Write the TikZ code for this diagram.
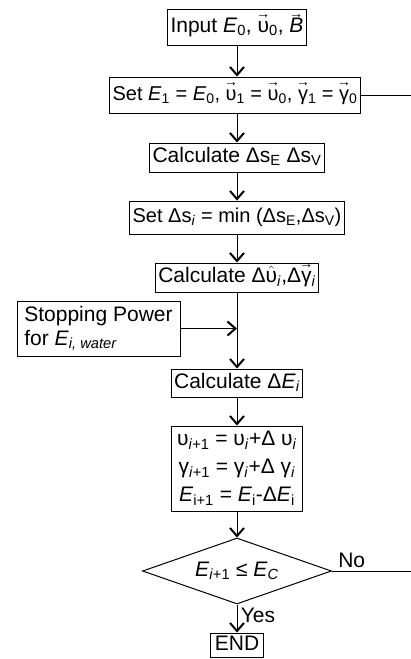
\documentclass[tikz,border=0pt]{standalone}
\usepackage{fontspec}
\setmainfont{Liberation Sans}
\usepackage{amsmath}
\usetikzlibrary{positioning,shapes.geometric,arrows.meta}

% freccia sopra una lettera
\newcommand{\vett}[1]{\leavevmode\setbox0=\hbox{#1}\rlap{\makebox[\wd0]{\raisebox{0.66em}[0pt][0pt]{\makebox[0pt]{\fontsize{14}{14}\selectfont →}}}}\box0}

\tikzset{
  tallbox/.style={draw, line width=1pt, inner xsep=3pt, inner ysep=1pt},
  box/.style={tallbox, inner ysep=0pt, text height=15pt, text depth=5pt},
  decision/.style={diamond, draw, line width=1pt, inner sep=0pt, aspect=2.86, minimum width=189pt, minimum height=66pt},
  flow/.style={line width=1pt, -{Straight Barb[length=8pt,width=14pt,line width=2pt]}},
  plain/.style={line width=1pt}
}

\begin{document}
\begin{tikzpicture}[x=1pt, y=-1pt, font=\fontsize{21}{24}\selectfont]
  \useasboundingbox (0,0) rectangle (411,659);
  % Blocchi principali
  \node [box, minimum height=36pt] (input) at (237,27) {Input \textit{E}\textsubscript{0}, \vett{υ}\textsubscript{0}, \vett{\textit{B}}};
  \node [box, minimum height=36pt, font=\fontsize{20}{24}\selectfont] (init) at (235,95) {Set \textit{E}\textsubscript{1} = \textit{E}\textsubscript{0}, \vett{υ}\textsubscript{1} = \vett{υ}\textsubscript{0}, \vett{γ}\textsubscript{1} = \vett{γ}\textsubscript{0}};
  \node [box, minimum height=29pt] (steps) at (237,157.5) {Calculate Δs\textsubscript{E} Δs\textsubscript{V}};
  \node [box, minimum height=33pt, font=\fontsize{20}{24}\selectfont] (minstep) at (237,217.5) {Set Δs\textsubscript{\textit{i}} = min (Δs\textsubscript{E},Δs\textsubscript{V})};
  \node [box, minimum height=29pt] (dirs) at (237,277.5) {Calculate Δ$\hat{\mbox{υ}}$\textsubscript{\textit{i}},Δ\vett{γ}\textsubscript{\textit{i}}};
  \node [box, minimum height=28pt] (eloss) at (237,383) {Calculate Δ\textit{E}\textsubscript{\textit{i}}};
  \node [tallbox, minimum height=85pt, minimum width=131pt, align=center, font=\fontsize{21}{28}\selectfont] (update) at (237,468.5) {υ\textsubscript{\textit{i}+1} = υ\textsubscript{\textit{i}}+Δ υ\textsubscript{\textit{i}}\\γ\textsubscript{\textit{i}+1} = γ\textsubscript{\textit{i}}+Δ γ\textsubscript{\textit{i}}\\\textit{E}\textsubscript{i+1} = \textit{E}\textsubscript{i}-Δ\textit{E}\textsubscript{i}};
  \node [decision] (check) at (237,571) {\textit{E}\textsubscript{\textit{i}+1} ≤ \textit{E}\textsubscript{\textit{C}}};
  \node [box, minimum height=24pt, minimum width=53pt, inner xsep=2pt] (end) at (237,645) {END};
  \node [tallbox, minimum height=55pt, minimum width=163pt, align=left] (stop) at (98.5,328.5) {Stopping Power\\for \textit{E}\textsubscript{\textit{i, water}}};

  % Bordo destro
  \coordinate (rim) at (411,0);

  \draw [flow] (input) -- (input |- init.north);
  \draw [flow] (input |- init.south) -- (steps);
  \draw [flow] (steps) -- (minstep);
  \draw [flow] (minstep) -- (dirs);
  \draw [flow] (dirs) -- (eloss);
  \draw [flow] (stop.east) -- (stop.east -| dirs.south);
  \draw [flow] (eloss) -- (update);
  \draw [flow] (update) -- (check);
  \draw [flow] (check) -- node [right, pos=0.4] {Yes} (end);
  \draw [plain] (check.east) -- node [above, pos=0.25, inner sep=3pt] {No} (check.east -| rim);
  \draw [plain] (init.east) -- (init.east -| rim);
\end{tikzpicture}
\end{document}
